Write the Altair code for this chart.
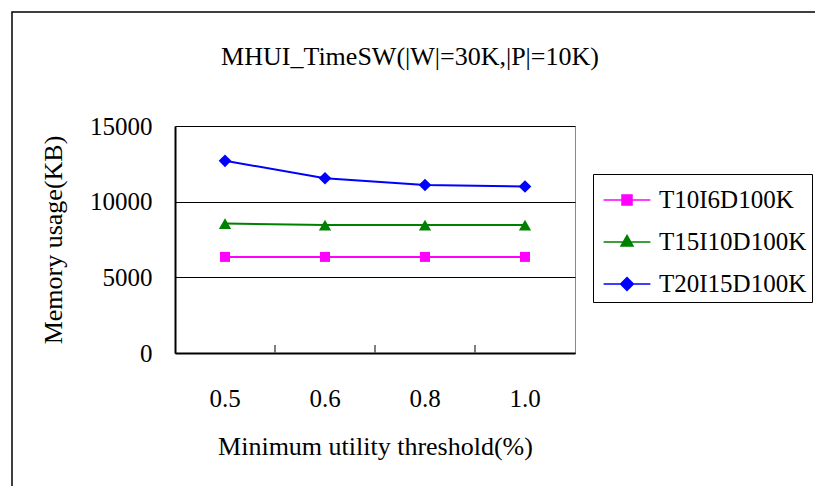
import altair as alt
import pandas as pd

chart_title = "MHUI_TimeSW(|W|=30K,|P|=10K)"
thresholds = ["0.5", "0.6", "0.8", "1.0"]
series_names = ["T10I6D100K", "T15I10D100K", "T20I15D100K"]
t10i6 = [6350, 6350, 6350, 6350]
t15i10 = [8550, 8450, 8450, 8450]
t20i15 = [12700, 11550, 11100, 11000]
y_ticks = [0, 5000, 10000, 15000]
colors = ["#FF00FF", "#008000", "#0000FF"]
shapes = ["square", "triangle-up", "diamond"]
point_sizes = [100, 150, 160]
legend_paths = [
    "M-1.17,0H1.17M-0.25,-0.25H0.25V0.25H-0.25Z",
    "M-1.17,0H1.17M0,-0.33L0.3,0.2L-0.3,0.2Z",
    "M-1.17,0H1.17M0,-0.32L0.32,0L0,0.32L-0.32,0Z",
]

rows = []
for name, vals in zip(series_names, [t10i6, t15i10, t20i15]):
    for t, v in zip(thresholds, vals):
        rows.append({"threshold": t, "series": name, "value": v})
df = pd.DataFrame(rows)
tick_df = pd.DataFrame({"threshold": thresholds[:-1]})

FONT = "Liberation Serif"
W, H = 400, 227

xscale = alt.Scale(domain=thresholds, paddingInner=0, paddingOuter=0)
x_enc = alt.X(
    "threshold:N",
    scale=xscale,
    sort=thresholds,
    axis=alt.Axis(
        title="Minimum utility threshold(%)",
        labelAngle=0,
        labelAlign="center",
        ticks=False,
        grid=False,
        domainColor="black",
        domainWidth=2,
        labelPadding=45,
        labelFontSize=25,
        titleFontSize=26,
        titlePadding=22,
        labelFont=FONT,
        titleFont=FONT,
        labelColor="black",
        titleColor="black",
        titleFontWeight="normal",
    ),
)
y_enc = alt.Y(
    "value:Q",
    scale=alt.Scale(domain=[0, 15000], nice=False, zero=True),
    axis=alt.Axis(
        title="Memory usage(KB)",
        values=y_ticks,
        format="d",
        ticks=False,
        grid=True,
        gridColor="black",
        gridWidth=1,
        gridOpacity=1,
        domainColor="black",
        domainWidth=2,
        labelPadding=23,
        labelFontSize=25,
        titleFontSize=26,
        titlePadding=23,
        labelFont=FONT,
        titleFont=FONT,
        labelColor="black",
        titleColor="black",
        titleFontWeight="normal",
    ),
)

one = pd.DataFrame({"a": [0]})
frame = alt.Chart(one).mark_rect(
    fill=None, stroke="black", strokeWidth=1.5
).encode(
    x=alt.value(-163), x2=alt.value(W + 260),
    y=alt.value(-114), y2=alt.value(H + 160),
)
title_mark = alt.Chart(one).mark_text(
    font=FONT, fontSize=26, color="black", align="center", baseline="alphabetic"
).encode(
    x=alt.value(235), y=alt.value(-61), text=alt.value(chart_title)
)

base = alt.Chart(df)

series_layers = []
for name, col, shp, sz in zip(series_names, colors, shapes, point_sizes):
    sub = base.transform_filter(alt.datum.series == name)
    series_layers.append(
        sub.mark_line(strokeWidth=2, color=col).encode(x=x_enc, y=y_enc)
    )
    series_layers.append(
        sub.mark_point(filled=True, size=sz, opacity=1, shape=shp, color=col).encode(
            x=x_enc, y=y_enc
        )
    )

leg = alt.Legend(
    title=None,
    orient="none",
    legendX=418,
    legendY=48,
    strokeColor="black",
    fillColor="white",
    padding=5,
    symbolOffset=8,
    symbolSize=1600,
    symbolStrokeWidth=1.5,
    symbolOpacity=1,
    labelFont=FONT,
    labelFontSize=25,
    labelColor="black",
    labelOffset=11,
    labelExpr="datum.label + '\u00a0\u00a0'",
    rowPadding=8,
)
legend_layer = base.mark_point(
    filled=True, strokeWidth=1.5, opacity=1, clip=True, yOffset=3000
).encode(
    x=x_enc, y=y_enc,
    fill=alt.Fill("series:N", scale=alt.Scale(domain=series_names, range=colors), legend=leg),
    stroke=alt.Stroke("series:N", scale=alt.Scale(domain=series_names, range=colors), legend=leg),
    shape=alt.Shape("series:N", scale=alt.Scale(domain=series_names, range=legend_paths), legend=leg),
)

xticks = alt.Chart(tick_df).mark_rule(color="#555555", strokeWidth=1.5, xOffset=50).encode(
    x=alt.X("threshold:N", scale=xscale, sort=thresholds),
    y=alt.value(H - 8), y2=alt.value(H),
)

chart = alt.layer(frame, title_mark, xticks, *series_layers, legend_layer).properties(
    width=W,
    height=H,
    background="white",
    autosize=alt.AutoSizeParams(type="none"),
    padding={"left": 175, "top": 126, "right": 240, "bottom": 133},
).configure_view(
    stroke="#888888", strokeWidth=1
)

chart.save("out.html", embed_options={"renderer": "svg", "actions": False})
